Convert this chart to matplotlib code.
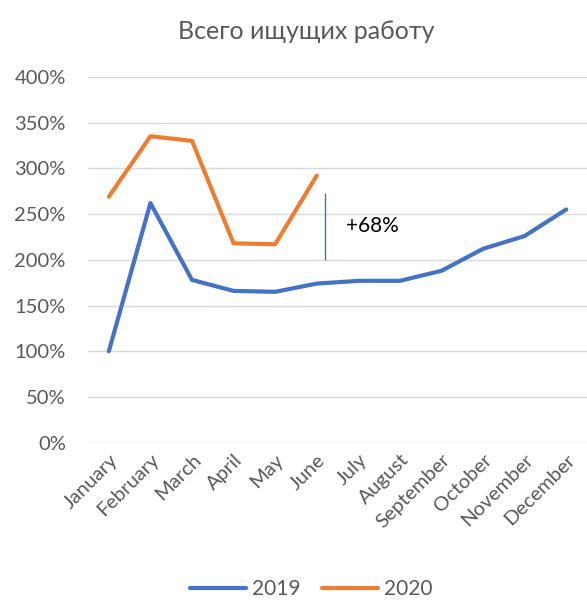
import matplotlib.pyplot as plt
import numpy as np

plt.rcParams['font.family'] = ['Lato', 'DejaVu Sans']

months = ["January", "February", "March", "April", "May", "June", "July",
          "August", "September", "October", "November", "December"]
y2019 = [1.00, 2.62, 1.78, 1.66, 1.65, 1.74, 1.77, 1.77, 1.88, 2.12, 2.26, 2.55]
y2020 = [2.69, 3.35, 3.30, 2.18, 2.17, 2.92]
yticks = [0, 0.5, 1.0, 1.5, 2.0, 2.5, 3.0, 3.5, 4.0]
gap_top, gap_bottom = 2.73, 2.00
gap_label = "+68%"

blue = "#4472C4"
orange = "#ED7D31"
grey = "#595959"

fig = plt.figure(figsize=(5.87, 6.0), dpi=100)
ax = fig.add_axes([0.15, 0.262, 0.85, 0.61])

x = np.arange(len(months))
ax.plot(x, y2019, color=blue, lw=3, solid_capstyle="round", label="2019")
ax.plot(x[:len(y2020)], y2020, color=orange, lw=3, solid_capstyle="round", label="2020")

# gap marker between the two years
ax.vlines(5.2, gap_bottom, gap_top, color=blue, lw=1)
ax.text(5.7, 2.37, gap_label, fontsize=15, color="black", va="center")

ax.set_xlim(-0.5, len(months) - 0.5)
ax.set_ylim(0, 4)
ax.set_yticks(yticks)
ax.set_yticklabels([f"{int(round(v * 100))}%" for v in yticks])
ax.set_xticks(x)
ax.set_xticklabels(months, rotation=45, ha="right", rotation_mode="anchor")
ax.tick_params(axis="both", length=0, labelsize=14.5, labelcolor=grey)
ax.tick_params(axis="x", pad=6)
ax.tick_params(axis="y", pad=16)
ax.grid(axis="y", color="#D9D9D9", lw=1)
ax.set_axisbelow(True)
for s in ax.spines.values():
    s.set_visible(False)

fig.text(0.522, 0.947, "Всего ищущих работу", ha="center", va="center",
         fontsize=18, color=grey)

fig.legend(loc="center", bbox_to_anchor=(0.53, 0.018), ncol=2, frameon=False,
           fontsize=15, labelcolor=grey, handlelength=2.7, columnspacing=1.0,
           handletextpad=0.3)

fig.savefig("out.png", dpi=100)
